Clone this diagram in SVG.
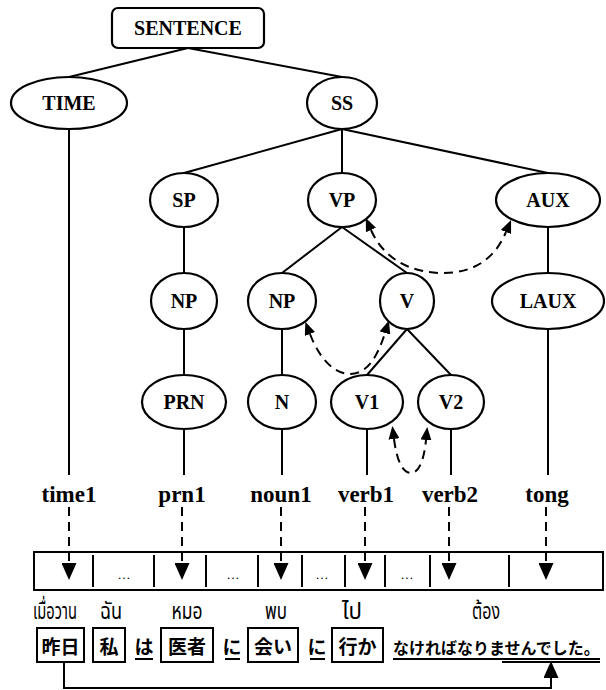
<svg xmlns="http://www.w3.org/2000/svg" width="606" height="690" viewBox="0 0 606 690">
<style>
.nd{fill:#fff;stroke:#000;stroke-width:2.2}
.lb{font-family:"Liberation Serif","Times New Roman",serif;font-weight:bold;font-size:20px;text-anchor:middle;fill:#000}
.wd{font-family:"Liberation Serif","Times New Roman",serif;font-weight:bold;font-size:23px;text-anchor:middle;fill:#000}
.ln{stroke:#000;stroke-width:2;fill:none}
.da{stroke:#000;stroke-width:2;fill:none;stroke-dasharray:9 6}
.th{font-family:"Noto Sans Thai","Tahoma","Noto Sans","DejaVu Sans",sans-serif;font-size:23px;text-anchor:middle;fill:#000}
.jp{font-family:"Noto Sans CJK JP","Noto Sans CJK SC",sans-serif;font-weight:bold;font-size:19px;text-anchor:middle;fill:#000}
.bx{fill:none;stroke:#000;stroke-width:2}
.dots{font-family:"Liberation Serif",serif;font-size:13px;text-anchor:middle;fill:#000}
</style>
<defs>
<marker id="ad" viewBox="0 0 17 15" refX="0" refY="7.5" markerWidth="17" markerHeight="15" markerUnits="userSpaceOnUse" orient="auto-start-reverse">
<path d="M0,0 L17,7.5 L0,15 z" fill="#000"/>
</marker>
<marker id="ac" viewBox="0 0 13 11" refX="0" refY="5.5" markerWidth="13" markerHeight="11" markerUnits="userSpaceOnUse" orient="auto-start-reverse">
<path d="M0,0 L13,5.5 L0,11 z" fill="#000"/>
</marker>
</defs>
<rect width="606" height="690" fill="#fff"/>
<g id="connectors">
<line class="ln" x1="188" y1="48" x2="69" y2="77"/>
<line class="ln" x1="188" y1="48" x2="342" y2="77"/>
<line class="ln" x1="69" y1="129" x2="69" y2="475"/>
<line class="ln" x1="342" y1="129" x2="184" y2="173"/>
<line class="ln" x1="342" y1="129" x2="342" y2="173"/>
<line class="ln" x1="342" y1="129" x2="548" y2="173"/>
<line class="ln" x1="184" y1="227" x2="184" y2="273"/>
<line class="ln" x1="342" y1="227" x2="282" y2="273"/>
<line class="ln" x1="342" y1="227" x2="407" y2="273"/>
<line class="ln" x1="548" y1="227" x2="548" y2="273"/>
<line class="ln" x1="184" y1="329" x2="184" y2="375"/>
<line class="ln" x1="282" y1="329" x2="282" y2="375"/>
<line class="ln" x1="407" y1="329" x2="367" y2="375"/>
<line class="ln" x1="407" y1="329" x2="451" y2="375"/>
<line class="ln" x1="548" y1="329" x2="548" y2="475"/>
<line class="ln" x1="184" y1="429" x2="184" y2="475"/>
<line class="ln" x1="282" y1="429" x2="282" y2="475"/>
<line class="ln" x1="367" y1="429" x2="367" y2="475"/>
<line class="ln" x1="451" y1="429" x2="451" y2="475"/>
<path class="da" d="M371,230 C385,262 415,273 443,273 C475,273 495,258 506,232" marker-start="url(#ac)" marker-end="url(#ac)"/>
<path class="da" d="M310,334 C320,360 335,374 350,374 C368,374 378,355 385,333" marker-start="url(#ac)" marker-end="url(#ac)"/>
<path class="da" d="M394,439 C397,462 403,473 411,473 C419,473 424,460 426,440" marker-start="url(#ac)" marker-end="url(#ac)"/>
<line class="da" x1="69" y1="507" x2="69" y2="563" marker-end="url(#ad)"/>
<line class="da" x1="182" y1="507" x2="182" y2="563" marker-end="url(#ad)"/>
<line class="da" x1="281" y1="507" x2="281" y2="563" marker-end="url(#ad)"/>
<line class="da" x1="365" y1="507" x2="365" y2="563" marker-end="url(#ad)"/>
<line class="da" x1="449" y1="507" x2="449" y2="563" marker-end="url(#ad)"/>
<line class="da" x1="546" y1="507" x2="546" y2="563" marker-end="url(#ad)"/>
<polyline class="ln" points="64,662 64,688 551,688 551,678" marker-end="url(#ad)"/>
</g>
<g id="SENTENCE"><rect class="nd" x="112" y="8" width="152" height="40" rx="6"/><text class="lb" x="188" y="35">SENTENCE</text></g>
<g id="TIME"><ellipse class="nd" cx="69" cy="103" rx="58" ry="26"/><text class="lb" x="69" y="110">TIME</text></g>
<g id="SS"><ellipse class="nd" cx="342" cy="103" rx="35" ry="26"/><text class="lb" x="342" y="110">SS</text></g>
<g id="SP"><ellipse class="nd" cx="184" cy="200" rx="34" ry="27"/><text class="lb" x="184" y="207">SP</text></g>
<g id="VP"><ellipse class="nd" cx="342" cy="200" rx="34" ry="27"/><text class="lb" x="342" y="207">VP</text></g>
<g id="AUX"><ellipse class="nd" cx="548" cy="200" rx="52" ry="27"/><text class="lb" x="548" y="207">AUX</text></g>
<g id="NP1"><ellipse class="nd" cx="184" cy="301" rx="33" ry="28"/><text class="lb" x="184" y="308">NP</text></g>
<g id="NP2"><ellipse class="nd" cx="282" cy="301" rx="34" ry="28"/><text class="lb" x="282" y="308">NP</text></g>
<g id="V"><ellipse class="nd" cx="407" cy="301" rx="27" ry="28"/><text class="lb" x="407" y="308">V</text></g>
<g id="LAUX"><ellipse class="nd" cx="548" cy="301" rx="56" ry="28"/><text class="lb" x="548" y="308">LAUX</text></g>
<g id="PRN"><ellipse class="nd" cx="184" cy="402" rx="42" ry="27"/><text class="lb" x="184" y="409">PRN</text></g>
<g id="N"><ellipse class="nd" cx="282" cy="402" rx="34" ry="27"/><text class="lb" x="282" y="409">N</text></g>
<g id="V1"><ellipse class="nd" cx="367" cy="402" rx="36" ry="27"/><text class="lb" x="367" y="409">V1</text></g>
<g id="V2"><ellipse class="nd" cx="451" cy="402" rx="33" ry="27"/><text class="lb" x="451" y="409">V2</text></g>
<g id="words">
<text class="wd" x="69" y="502">time1</text>
<text class="wd" x="182" y="502">prn1</text>
<text class="wd" x="281" y="502">noun1</text>
<text class="wd" x="366" y="502">verb1</text>
<text class="wd" x="450" y="502">verb2</text>
<text class="wd" x="547" y="502">tong</text>
</g>
<g id="buffer">
<rect class="bx" x="34" y="552" width="569" height="38"/>
<line class="ln" x1="93" y1="555" x2="93" y2="587"/>
<line class="ln" x1="154" y1="555" x2="154" y2="587"/>
<line class="ln" x1="206" y1="555" x2="206" y2="587"/>
<line class="ln" x1="258" y1="555" x2="258" y2="587"/>
<line class="ln" x1="302" y1="555" x2="302" y2="587"/>
<line class="ln" x1="345" y1="555" x2="345" y2="587"/>
<line class="ln" x1="385" y1="555" x2="385" y2="587"/>
<line class="ln" x1="430" y1="555" x2="430" y2="587"/>
<line class="ln" x1="509" y1="555" x2="509" y2="587"/>
<text class="dots" x="124" y="579">…</text>
<text class="dots" x="233" y="579">…</text>
<text class="dots" x="322" y="579">…</text>
<text class="dots" x="407" y="579">…</text>
</g>
<g id="thai">
<text class="th" x="55" y="619" textLength="44" lengthAdjust="spacingAndGlyphs">เมื่อวาน</text>
<text class="th" x="111" y="619" textLength="22" lengthAdjust="spacingAndGlyphs">ฉัน</text>
<text class="th" x="187" y="619" textLength="31" lengthAdjust="spacingAndGlyphs">หมอ</text>
<text class="th" x="276" y="619" textLength="22" lengthAdjust="spacingAndGlyphs">พบ</text>
<text class="th" x="352" y="619" textLength="20" lengthAdjust="spacingAndGlyphs">ไป</text>
<text class="th" x="486" y="619" textLength="28" lengthAdjust="spacingAndGlyphs">ต้อง</text>
</g>
<g id="japanese">
<rect class="bx" x="37" y="628" width="47" height="34"/><text class="jp" x="60.5" y="654">昨日</text>
<rect class="bx" x="93" y="628" width="32" height="34"/><text class="jp" x="109" y="654">私</text>
<text class="jp" x="144" y="654">は</text><line class="ln" x1="135" y1="659" x2="153" y2="659"/>
<rect class="bx" x="161" y="628" width="52" height="34"/><text class="jp" x="187" y="654">医者</text>
<text class="jp" x="232" y="654">に</text><line class="ln" x1="225" y1="659" x2="240" y2="659"/>
<rect class="bx" x="248" y="628" width="50" height="34"/><text class="jp" x="273" y="654">会い</text>
<text class="jp" x="317" y="654">に</text><line class="ln" x1="310" y1="659" x2="325" y2="659"/>
<rect class="bx" x="332" y="628" width="51" height="34"/><text class="jp" x="357.5" y="654">行か</text>
<text class="jp" x="393" y="654" style="text-anchor:start;font-size:16px">なければなりませんでした。</text>
<line class="ln" x1="393" y1="659" x2="600" y2="659"/>
<line class="ln" x1="502" y1="662" x2="600" y2="662"/>
</g>
</svg>
